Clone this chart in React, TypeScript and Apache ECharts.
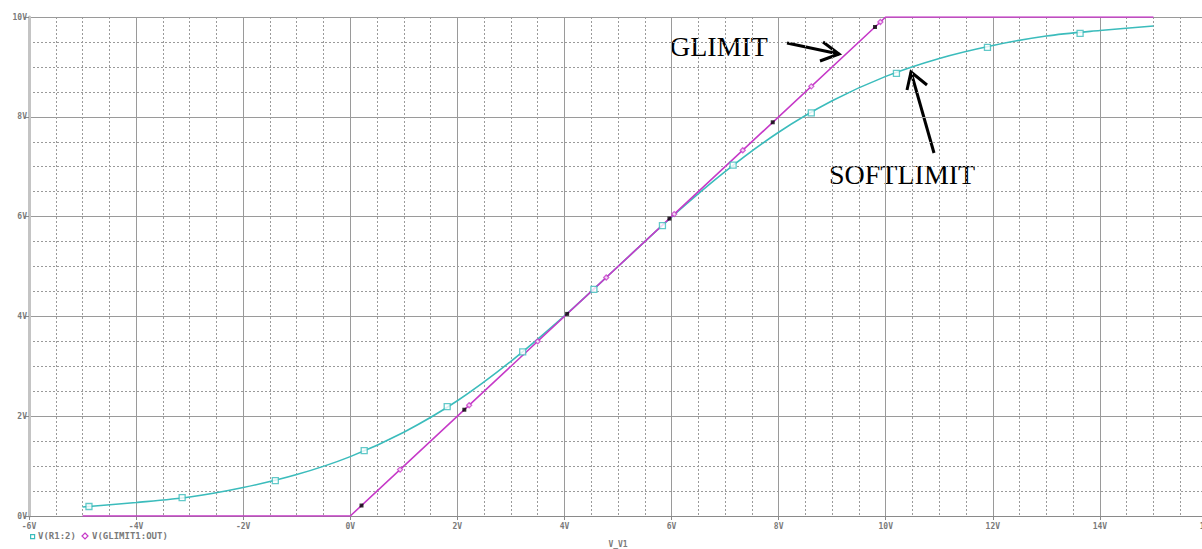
import React, { useEffect, useRef } from "react";
import * as echarts from "echarts";

// ---- data ----
const softX = [-5, -4, -3, -2, -1, 0, 1, 2, 3, 4, 5, 6, 7, 8, 9, 10, 11, 12, 13, 14, 15];
const softY = [0.18, 0.27, 0.38, 0.57, 0.83, 1.19, 1.68, 2.31, 3.1, 4.01, 5.0, 5.99, 6.9, 7.69, 8.32, 8.81, 9.17, 9.43, 9.62, 9.73, 9.82];

const glimitX = [-5, 0, 10, 15];
const glimitY = [0, 0, 10, 10];

const softMarkers = [
  [-4.88, 0.19], [-3.14, 0.37], [-1.4, 0.71], [0.26, 1.31], [1.81, 2.19], [3.22, 3.29],
  [4.55, 4.54], [5.83, 5.82], [7.15, 7.03], [8.61, 8.08], [10.2, 8.87], [11.9, 9.39], [13.63, 9.67],
];
const glimitMarkers = [
  [0.93, 0.93], [2.22, 2.22], [3.5, 3.5], [4.78, 4.78], [6.05, 6.05], [7.33, 7.33], [8.61, 8.61], [9.9, 9.9],
];
const cursorMarkers = [
  [0.21, 0.21], [2.13, 2.13], [4.05, 4.05], [5.96, 5.96], [7.89, 7.89], [9.8, 9.8],
];

const xTitle = "V_V1";
const softName = "V(R1:2)";
const glimitName = "V(GLIMIT1:OUT)";
const softLabel = "SOFTLIMIT";
const glimitLabel = "GLIMIT";

const CYAN = "#3bbcbc";
const MAGENTA = "#c63ac8";
const GRID = "#9a9a9a";
const LABEL = "#7a7a7a";
const MONO = "'DejaVu Sans Mono', 'Liberation Mono', monospace";
const SERIF = "'Liberation Serif', 'Times New Roman', serif";

export default function App() {
  const ref = useRef<HTMLDivElement>(null);

  useEffect(() => {
    if (!ref.current) return;
    const chart = echarts.init(ref.current, undefined, { renderer: "svg" });

    const axisLabel = {
      color: LABEL,
      fontFamily: MONO,
      fontSize: 8,
      fontWeight: "bold" as const,
      formatter: (v: number) => `${v}V`,
    };

    chart.setOption({
      animation: false,
      backgroundColor: "#ffffff",
      grid: {
        left: 29,
        width: 1178,
        top: 17,
        height: 499,
        containLabel: false,
        outerBoundsMode: "none",
      },
      xAxis: {
        type: "value",
        min: -6,
        max: 16,
        interval: 2,
        name: xTitle,
        nameLocation: "middle",
        nameGap: 24,
        nameTextStyle: { color: LABEL, fontFamily: MONO, fontSize: 8, fontWeight: "bold" },
        axisLine: { show: true, onZero: false, lineStyle: { color: "#8a8a8a", width: 1 } },
        axisTick: { show: true, length: 4, lineStyle: { color: "#8a8a8a" } },
        axisLabel: { ...axisLabel, margin: 6 },
        splitLine: { show: true, lineStyle: { color: GRID, width: 1 } },
        minorTick: { show: false, splitNumber: 4 },
        minorSplitLine: { show: true, lineStyle: { color: GRID, width: 1, type: [2, 2] } },
      },
      yAxis: {
        type: "value",
        min: 0,
        max: 10,
        interval: 2,
        axisLine: { show: true, onZero: false, lineStyle: { color: "#c4c4c4", width: 3 } },
        axisTick: { show: true, length: 5, lineStyle: { color: "#8a8a8a" } },
        axisLabel: { ...axisLabel, margin: 2 },
        splitLine: { show: true, lineStyle: { color: GRID, width: 1 } },
        minorTick: { show: false, splitNumber: 4 },
        minorSplitLine: { show: true, lineStyle: { color: GRID, width: 1, type: [2, 2] } },
      },
      series: [
        {
          name: softName,
          type: "line",
          smooth: 0.3,
          showSymbol: false,
          data: softX.map((x, i) => [x, softY[i]]),
          lineStyle: { color: CYAN, width: 1.6 },
          z: 3,
        },
        {
          name: glimitName,
          type: "line",
          showSymbol: false,
          data: glimitX.map((x, i) => [x, glimitY[i]]),
          lineStyle: { color: MAGENTA, width: 1.6 },
          z: 4,
        },
        {
          type: "scatter",
          symbol: "rect",
          symbolSize: 6,
          data: softMarkers,
          itemStyle: { color: "#ffffff", borderColor: CYAN, borderWidth: 1.3 },
          z: 5,
        },
        {
          type: "scatter",
          symbol: "diamond",
          symbolSize: 5,
          data: glimitMarkers,
          itemStyle: { color: "#ffffff", borderColor: MAGENTA, borderWidth: 1.3 },
          z: 5,
        },
        {
          type: "scatter",
          symbol: "rect",
          symbolSize: 4,
          data: cursorMarkers,
          itemStyle: { color: "#000000" },
          z: 6,
        },
      ],
      graphic: [
        // legend
        {
          type: "rect",
          left: 30,
          top: 534,
          shape: { width: 4, height: 4 },
          style: { fill: "#fff", stroke: CYAN, lineWidth: 1.2 },
        },
        {
          type: "text",
          left: 38,
          top: 531,
          style: { text: softName, fill: LABEL, font: `bold 9px ${MONO}` },
        },
        {
          type: "polygon",
          shape: { points: [[85, 533], [88, 536], [85, 539], [82, 536]] },
          style: { fill: "#fff", stroke: MAGENTA, lineWidth: 1.2 },
        },
        {
          type: "text",
          left: 92,
          top: 531,
          style: { text: glimitName, fill: LABEL, font: `bold 9px ${MONO}` },
        },
        // annotations
        {
          type: "text",
          x: 670,
          y: 46,
          style: { text: glimitLabel, fill: "#000", font: `28px ${SERIF}`, textVerticalAlign: "middle" },
        },
        {
          type: "polyline",
          shape: { points: [[787, 43], [839, 54]] },
          style: { stroke: "#000", lineWidth: 3 },
        },
        {
          type: "polyline",
          shape: { points: [[823, 42], [839, 54], [820, 61]] },
          style: { stroke: "#000", lineWidth: 3, fill: "none" },
        },
        {
          type: "text",
          x: 829,
          y: 174,
          style: { text: softLabel, fill: "#000", font: `28px ${SERIF}`, textVerticalAlign: "middle" },
        },
        {
          type: "polyline",
          shape: { points: [[934, 153], [911, 72]] },
          style: { stroke: "#000", lineWidth: 3 },
        },
        {
          type: "polyline",
          shape: { points: [[907, 90], [911, 72], [927, 85]] },
          style: { stroke: "#000", lineWidth: 3, fill: "none" },
        },
      ],
    });

    return () => chart.dispose();
  }, []);

  return (
    <div
      ref={ref}
      style={{
        position: "fixed",
        left: 0,
        top: 0,
        width: 1202,
        height: 549,
        overflow: "hidden",
        background: "#fff",
      }}
    />
  );
}
